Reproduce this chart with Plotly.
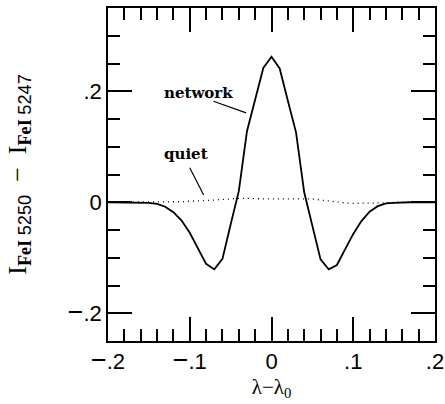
import plotly.graph_objects as go

# Wavelength offset from line centre
lam = [-0.20, -0.19, -0.18, -0.17, -0.16, -0.15, -0.14, -0.13, -0.12, -0.11,
       -0.10, -0.09, -0.08, -0.07, -0.06, -0.05, -0.04, -0.03, -0.02, -0.01,
       0.00, 0.01, 0.02, 0.03, 0.04, 0.05, 0.06, 0.07, 0.08, 0.09,
       0.10, 0.11, 0.12, 0.13, 0.14, 0.15, 0.16, 0.17, 0.18, 0.19, 0.20]

# Intensity difference I(FeI 5250) - I(FeI 5247), network region
network = [0.000, 0.000, 0.000, 0.000, 0.000, -0.001, -0.003, -0.008, -0.018, -0.033,
           -0.055, -0.083, -0.111, -0.121, -0.102, -0.040, 0.020, 0.128, 0.184, 0.242,
           0.262, 0.241, 0.183, 0.126, 0.018, -0.042, -0.103, -0.121, -0.113, -0.085,
           -0.057, -0.034, -0.017, -0.007, -0.002, -0.001, 0.000, 0.000, 0.000, 0.000, 0.000]

# Same difference for the quiet region
quiet = [0.000, 0.000, 0.000, 0.000, 0.000, 0.000, 0.000, 0.000, 0.001, 0.001,
         0.002, 0.002, 0.003, 0.004, 0.005, 0.007, 0.007, 0.007, 0.006, 0.006,
         0.006, 0.006, 0.006, 0.007, 0.007, 0.006, 0.004, 0.002, 0.000, -0.001,
         -0.002, -0.002, -0.002, -0.001, -0.001, 0.000, 0.000, 0.000, 0.000, 0.000, 0.000]

x_range = [-0.2, 0.2]
y_range = [-0.25, 0.35]
MINUS = "<span style='font-size:27px'>\u2212</span>"
x_tickvals = [-0.2, -0.1, 0.0, 0.1, 0.2]
x_ticktext = [MINUS + ".2", MINUS + ".1", "0", ".1", ".2"]
y_tickvals = [-0.2, 0.0, 0.2]
y_ticktext = [MINUS + ".2", "0", ".2"]

fig = go.Figure()
fig.add_trace(go.Scatter(x=lam, y=quiet, mode="lines",
                         line=dict(color="black", width=1.3, dash="1px,4px")))
fig.add_trace(go.Scatter(x=lam, y=network, mode="lines",
                         line=dict(color="black", width=1.8)))
# anchors the overlaid minor-tick axes (draws nothing itself)
fig.add_trace(go.Scatter(x=lam, y=network, xaxis="x2", yaxis="y2", mode="none",
                         hoverinfo="skip"))

label_font = dict(family="DejaVu Serif", size=15, color="black")
fig.add_annotation(x=-0.0888, y=0.197, text="<b>network</b>", showarrow=False,
                   font=label_font, xanchor="center", yanchor="middle")
fig.add_annotation(x=-0.105, y=0.0865, text="<b>quiet</b>", showarrow=False,
                   font=label_font, xanchor="center", yanchor="middle")

# leader lines from the labels to the curves
fig.add_shape(type="line", x0=-0.071, y0=0.182, x1=-0.031, y1=0.161,
              line=dict(color="black", width=1.2))
fig.add_shape(type="line", x0=-0.100, y0=0.062, x1=-0.083, y1=0.013,
              line=dict(color="black", width=1.2))

tick_font = dict(family="Liberation Sans", size=22, color="black")
title_font = dict(family="Liberation Serif", size=26, color="black")
sans = "font-family:Liberation Sans"

frame = dict(showgrid=False, zeroline=False, showline=True, linecolor="black",
             linewidth=1.5, mirror="ticks", ticks="inside", tickwidth=1.5,
             tickcolor="black")

# Primary axes carry the long labelled ticks; overlaid axes add the short ones.
fig.update_layout(
    xaxis=dict(range=x_range, tickmode="array", tickvals=x_tickvals,
               ticktext=x_ticktext, ticklen=24, tickfont=tick_font,
               title=dict(text="\u03bb\u2212\u03bb<sub>0</sub>",
                          font=dict(family="Liberation Serif", size=21, color="black"),
                          standoff=5),
               **frame),
    yaxis=dict(range=y_range, tickmode="array", tickvals=y_tickvals,
               ticktext=y_ticktext, ticklen=24, tickfont=tick_font,
               title=dict(text=("I<sub><b>FeI</b> <span style='%s'>5250</span></sub>"
                                "  \u2212  "
                                "I<sub><b>FeI</b> <span style='%s'>5247</span></sub>")
                               % (sans, sans),
                          font=title_font, standoff=34),
               **frame),
    xaxis2=dict(range=x_range, overlaying="x", anchor="y2", side="bottom",
                tickmode="linear", tick0=0, dtick=0.02, ticklen=12,
                showticklabels=False, **frame),
    yaxis2=dict(range=y_range, overlaying="y", anchor="x2", side="left",
                tickmode="linear", tick0=0, dtick=0.05, ticklen=12,
                showticklabels=False, **frame),
    width=445, height=404, showlegend=False,
    margin=dict(l=108, r=10, t=8, b=63, autoexpand=False),
    paper_bgcolor="white", plot_bgcolor="white",
)

fig.write_html("out.html")
